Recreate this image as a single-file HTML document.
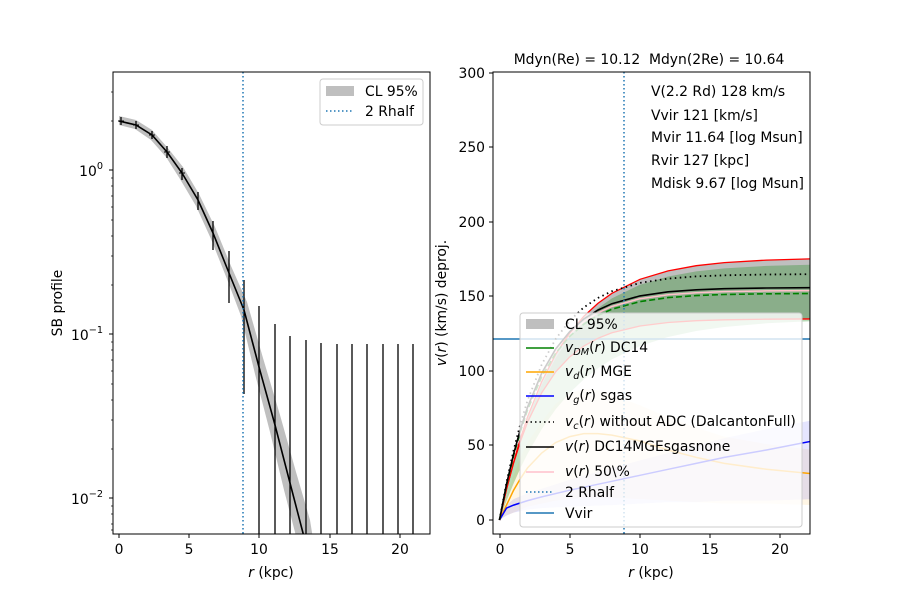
<!DOCTYPE html>
<html><head><meta charset="utf-8"><style>
html,body{margin:0;padding:0;background:#fff;}
svg{display:block;font-family:"DejaVu Sans","Liberation Sans",sans-serif;}
</style></head><body>
<svg width="900" height="600" viewBox="0 0 900 600" xmlns="http://www.w3.org/2000/svg">
<rect width="900" height="600" fill="#fff"/>
<defs>
<clipPath id="cl"><rect x="113" y="72" width="317" height="462"/></clipPath>
<clipPath id="cr"><rect x="493" y="72" width="317" height="462"/></clipPath>
</defs>

<!-- LEFT PANEL -->
<g clip-path="url(#cl)">
<polygon fill="#bfbfbf" points="119,116 136,120 152,130 167,147 183,167 199,194 215,227 231,266 247,302 263,358 280,415 296,472 310,520 314,545 300,545 296,536 284,490 270,432 255,374 241,316 227,279 211,239 196,206 180,179 166,157 151,140 135,129 119,125"/>
<polyline fill="none" stroke="#000" stroke-width="1.6" points="119,121 136,125 152,135 167,152 182,173 198,200 213,233 229,273 244,310 259,367 275,425 290,483 303,533 306,545"/>
<g stroke="#000" stroke-width="1.3">
<line x1="121" y1="117" x2="121" y2="125"/>
<line x1="136" y1="121" x2="136" y2="129"/>
<line x1="152" y1="131" x2="152" y2="139"/>
<line x1="167" y1="146" x2="167" y2="158"/>
<line x1="182" y1="168" x2="182" y2="180"/>
<line x1="198" y1="192" x2="198" y2="210"/>
<line x1="213" y1="221" x2="213" y2="250"/>
<line x1="229" y1="251" x2="229" y2="303"/>
<line x1="244" y1="280" x2="244" y2="394"/>
<line x1="259" y1="306" x2="259" y2="540"/>
<line x1="275" y1="324" x2="275" y2="540"/>
<line x1="290" y1="336" x2="290" y2="540"/>
<line x1="306" y1="340" x2="306" y2="540"/>
<line x1="321" y1="343" x2="321" y2="540"/>
<line x1="337" y1="344" x2="337" y2="540"/>
<line x1="352" y1="344" x2="352" y2="540"/>
<line x1="367" y1="344" x2="367" y2="540"/>
<line x1="383" y1="344" x2="383" y2="540"/>
<line x1="398" y1="344" x2="398" y2="540"/>
<line x1="413" y1="344" x2="413" y2="540"/>
</g>
<g stroke="#000" stroke-width="1">
<line x1="118" y1="121" x2="124" y2="121"/><line x1="133" y1="125" x2="139" y2="125"/><line x1="149" y1="135" x2="155" y2="135"/><line x1="164" y1="152" x2="170" y2="152"/><line x1="179" y1="173" x2="185" y2="173"/>
</g>
<line x1="243" y1="72" x2="243" y2="534" stroke="#1f77b4" stroke-width="1.5" stroke-dasharray="1.5,2.5"/>
</g>
<rect x="113" y="72" width="317" height="462" fill="none" stroke="#000" stroke-width="1"/>
<g stroke="#000" stroke-width="1">
<line x1="119" y1="534" x2="119" y2="538"/><line x1="189" y1="534" x2="189" y2="538"/><line x1="259" y1="534" x2="259" y2="538"/><line x1="330" y1="534" x2="330" y2="538"/><line x1="400" y1="534" x2="400" y2="538"/>
<line x1="109" y1="170" x2="113" y2="170"/><line x1="109" y1="334" x2="113" y2="334"/><line x1="109" y1="498" x2="113" y2="498"/>
</g>
<g stroke="#000" stroke-width="0.7">
<line x1="111" y1="121" x2="113" y2="121"/><line x1="111" y1="92" x2="113" y2="92"/>
<line x1="111" y1="285" x2="113" y2="285"/><line x1="111" y1="256" x2="113" y2="256"/><line x1="111" y1="236" x2="113" y2="236"/><line x1="111" y1="220" x2="113" y2="220"/><line x1="111" y1="207" x2="113" y2="207"/><line x1="111" y1="196" x2="113" y2="196"/><line x1="111" y1="186" x2="113" y2="186"/><line x1="111" y1="178" x2="113" y2="178"/>
<line x1="111" y1="449" x2="113" y2="449"/><line x1="111" y1="420" x2="113" y2="420"/><line x1="111" y1="400" x2="113" y2="400"/><line x1="111" y1="384" x2="113" y2="384"/><line x1="111" y1="371" x2="113" y2="371"/><line x1="111" y1="360" x2="113" y2="360"/><line x1="111" y1="350" x2="113" y2="350"/><line x1="111" y1="342" x2="113" y2="342"/>
<line x1="111" y1="530" x2="113" y2="530"/><line x1="111" y1="524" x2="113" y2="524"/><line x1="111" y1="514" x2="113" y2="514"/><line x1="111" y1="506" x2="113" y2="506"/>
</g>
<g font-size="13.9" fill="#000" text-anchor="middle">
<text x="119" y="554">0</text><text x="189" y="554">5</text><text x="259" y="554">10</text><text x="330" y="554">15</text><text x="400" y="554">20</text>
<text x="271" y="577"><tspan font-style="italic">r</tspan> (kpc)</text>
</g>
<g font-size="13.9" fill="#000" text-anchor="end">
<text x="103" y="176">10<tspan font-size="9.7" dy="-7">0</tspan></text>
<text x="103" y="340">10<tspan font-size="9.7" dy="-7">−1</tspan></text>
<text x="103" y="504">10<tspan font-size="9.7" dy="-7">−2</tspan></text>
</g>
<text transform="translate(62,303) rotate(-90)" font-size="13.9" text-anchor="middle">SB profile</text>
<rect x="320" y="79" width="103" height="46" rx="3" fill="#fff" fill-opacity="0.8" stroke="#ccc"/>
<rect x="326" y="86" width="28" height="10" fill="#bfbfbf"/>
<text x="365" y="96" font-size="13.9">CL 95%</text>
<line x1="326" y1="111" x2="354" y2="111" stroke="#1f77b4" stroke-width="1.5" stroke-dasharray="1.5,2.5"/>
<text x="365" y="116" font-size="13.9">2 Rhalf</text>

<!-- RIGHT PANEL -->
<g clip-path="url(#cr)">
<!-- gray CL band -->
<polygon fill="#bfbfbf" points="499.5,520 506.5,489.2 513.6,462.0 520.6,438.0 527.6,416.8 541.7,381.7 555.7,354.3 569.8,332.9 583.8,316.3 597.9,303.4 611.9,293.3 640,279.3 668.1,270.9 696.2,265.7 724.3,262.6 766.5,260.1 812.8,258.8 812.8,318.9 766.5,319.2 724.3,319.8 696.2,320.7 668.1,322.5 640,326.0 611.9,332.8 597.9,338.3 583.8,346.0 569.8,356.8 555.7,371.8 541.7,392.8 527.6,422.1 520.6,440.8 513.6,463.0 506.5,489.1"/>
<!-- green band -->
<polygon fill="#008000" fill-opacity="0.28" points="499.5,520 506.5,489.9 513.6,463.3 520.6,439.9 527.6,419.1 541.7,384.8 555.7,358.0 569.8,337.1 583.8,320.9 597.9,308.2 611.9,298.4 640,284.7 668.1,276.5 696.2,271.4 724.3,268.4 766.5,265.9 812.8,264.7 812.8,321.1 766.5,323.3 724.3,327.0 696.2,331.0 668.1,337.0 640,346.0 611.9,359.4 597.9,368.4 583.8,379.4 569.8,392.8 555.7,409.2 541.7,429.2 527.6,453.7 520.6,467.8 513.6,483.5 506.5,500.8"/>
<!-- orange band -->
<polygon fill="#ffa500" fill-opacity="0.1" points="499.5,520 506.5,497.7 513.6,475.3 520.6,457.4 527.6,442.5 541.7,421.7 555.7,403.8 569.8,393.4 583.8,388.9 597.9,390.4 611.9,394.8 640,405.3 668.1,417.2 696.2,427.6 724.3,436.6 766.5,444.0 812.8,450.0 812.8,505.1 766.5,503.6 724.3,503.6 696.2,502.1 668.1,500.6 640,499.1 611.9,497.7 597.9,497.7 583.8,497.7 569.8,499.1 555.7,500.6 541.7,503.6 527.6,506.6 520.6,509.6 513.6,512.6 506.5,515.5"/>
<!-- blue band -->
<polygon fill="#0000ff" fill-opacity="0.1" points="499.5,520 506.5,505.1 513.6,499.1 527.6,493.2 541.7,488.7 569.8,479.8 611.9,467.9 640,460.4 668.1,453.0 696.2,445.5 724.3,438.1 766.5,429.1 812.8,420.2 812.8,499.1 766.5,500.6 724.3,500.6 696.2,502.1 668.1,502.1 640,503.6 611.9,505.1 569.8,506.6 541.7,508.1 527.6,509.6 513.6,512.6 506.5,515.5"/>
<line x1="493" y1="339" x2="810" y2="339" stroke="#1f77b4" stroke-width="1.5"/>
<polyline fill="none" stroke="#ffa500" stroke-width="1.5" points="499.5,520 506.5,505.1 513.6,490.2 520.6,478.3 527.6,467.9 541.7,453.0 555.7,442.5 569.8,436.6 583.8,433.6 597.9,433.6 611.9,435.1 640,441.0 668.1,450.0 696.2,457.4 724.3,463.4 766.5,469.3 812.8,473.8"/>
<polyline fill="none" stroke="#0000ff" stroke-width="1.5" points="499.5,520 506.5,508.1 513.6,505.1 527.6,500.6 541.7,496.9 569.8,490.2 611.9,481.3 640,475.3 668.1,469.3 696.2,463.4 724.3,457.4 766.5,450.0 812.8,441.0"/>
<polyline fill="none" stroke="#ffc0cb" stroke-width="1.5" points="499.5,520 506.5,484.8 513.6,454.9 520.6,429.7 527.6,408.3 541.7,374.9 555.7,351.0 569.8,333.9 583.8,321.6 597.9,312.8 611.9,306.5 640,298.7 668.1,294.7 696.2,292.7 724.3,291.6 766.5,290.9 812.8,290.6"/>
<polyline fill="none" stroke="#ff0000" stroke-width="1.3" points="499.5,520 506.5,489.2 513.6,462.0 520.6,438.0 527.6,416.8 541.7,381.7 555.7,354.3 569.8,332.9 583.8,316.3 597.9,303.4 611.9,293.3 640,279.3 668.1,270.9 696.2,265.7 724.3,262.6 766.5,260.1 812.8,258.8"/>
<polyline fill="none" stroke="#ff0000" stroke-width="1.3" points="499.5,520 506.5,489.1 513.6,463.0 520.6,440.8 527.6,422.1 541.7,392.8 555.7,371.8 569.8,356.8 583.8,346.0 597.9,338.3 611.9,332.8 640,326.0 668.1,322.5 696.2,320.7 724.3,319.8 766.5,319.2 812.8,318.9"/>
<polyline fill="none" stroke="#008000" stroke-width="1.6" stroke-dasharray="6,3" points="499.5,520 506.5,485.2 513.6,455.8 520.6,430.9 527.6,409.8 541.7,376.8 555.7,353.2 569.8,336.3 583.8,324.2 597.9,315.5 611.9,309.2 640,301.6 668.1,297.6 696.2,295.6 724.3,294.5 766.5,293.8 812.8,293.5"/>
<polyline fill="none" stroke="#000" stroke-width="1.8" stroke-dasharray="1.5,3.5" points="499.5,520 506.5,482.3 513.6,450.3 520.6,423.2 527.6,400.3 541.7,364.6 555.7,338.9 569.8,320.5 583.8,307.4 597.9,298.0 611.9,291.2 640,282.9 668.1,278.6 696.2,276.4 724.3,275.3 766.5,274.5 812.8,274.2"/>
<polyline fill="none" stroke="#000" stroke-width="1.6" points="499.5,520 506.5,484.3 513.6,454.1 520.6,428.5 527.6,406.9 541.7,373.1 555.7,348.9 569.8,331.5 583.8,319.0 597.9,310.1 611.9,303.7 640,295.9 668.1,291.8 696.2,289.8 724.3,288.7 766.5,288.0 812.8,287.7"/>
<line x1="624" y1="72" x2="624" y2="534" stroke="#1f77b4" stroke-width="1.5" stroke-dasharray="1.5,2.5"/>
</g>
<rect x="520" y="313" width="282" height="214" rx="3" fill="#fff" fill-opacity="0.8" stroke="#ccc"/>
<g font-size="13.9" fill="#000">
<rect x="526" y="319" width="28" height="10" fill="#bfbfbf"/>
<text x="565" y="329">CL 95%</text>
<line x1="526" y1="348" x2="554" y2="348" stroke="#008000" stroke-width="1.5"/>
<text x="565" y="352"><tspan font-style="italic">v</tspan><tspan font-size="9.7" dy="3" font-style="italic">DM</tspan><tspan dy="-3">(</tspan><tspan font-style="italic">r</tspan>) DC14</text>
<line x1="526" y1="372" x2="554" y2="372" stroke="#ffa500" stroke-width="1.5"/>
<text x="565" y="376"><tspan font-style="italic">v</tspan><tspan font-size="9.7" dy="3" font-style="italic">d</tspan><tspan dy="-3">(</tspan><tspan font-style="italic">r</tspan>) MGE</text>
<line x1="526" y1="396" x2="554" y2="396" stroke="#0000ff" stroke-width="1.5"/>
<text x="565" y="400"><tspan font-style="italic">v</tspan><tspan font-size="9.7" dy="3" font-style="italic">g</tspan><tspan dy="-3">(</tspan><tspan font-style="italic">r</tspan>) sgas</text>
<line x1="526" y1="422" x2="554" y2="422" stroke="#000" stroke-width="1.5" stroke-dasharray="1.5,3"/>
<text x="565" y="426"><tspan font-style="italic">v</tspan><tspan font-size="9.7" dy="3" font-style="italic">c</tspan><tspan dy="-3">(</tspan><tspan font-style="italic">r</tspan>) without ADC (DalcantonFull)</text>
<line x1="526" y1="447" x2="554" y2="447" stroke="#000" stroke-width="1.5"/>
<text x="565" y="451"><tspan font-style="italic">v</tspan>(<tspan font-style="italic">r</tspan>) DC14MGEsgasnone</text>
<line x1="526" y1="472" x2="554" y2="472" stroke="#ffc0cb" stroke-width="1.5"/>
<text x="565" y="476"><tspan font-style="italic">v</tspan>(<tspan font-style="italic">r</tspan>) 50\%</text>
<line x1="526" y1="492" x2="554" y2="492" stroke="#1f77b4" stroke-width="1.5" stroke-dasharray="1.5,2.5"/>
<text x="565" y="497">2 Rhalf</text>
<line x1="526" y1="513" x2="554" y2="513" stroke="#1f77b4" stroke-width="1.5"/>
<text x="565" y="518">Vvir</text>
</g>
<rect x="493" y="72" width="317" height="462" fill="none" stroke="#000" stroke-width="1"/>
<g stroke="#000" stroke-width="1">
<line x1="500" y1="534" x2="500" y2="538"/><line x1="570" y1="534" x2="570" y2="538"/><line x1="640" y1="534" x2="640" y2="538"/><line x1="710" y1="534" x2="710" y2="538"/><line x1="780" y1="534" x2="780" y2="538"/>
<line x1="489" y1="520" x2="493" y2="520"/><line x1="489" y1="445" x2="493" y2="445"/><line x1="489" y1="371" x2="493" y2="371"/><line x1="489" y1="296" x2="493" y2="296"/><line x1="489" y1="222" x2="493" y2="222"/><line x1="489" y1="147" x2="493" y2="147"/><line x1="489" y1="73" x2="493" y2="73"/>
</g>
<g font-size="13.9" fill="#000" text-anchor="middle">
<text x="500" y="554">0</text><text x="570" y="554">5</text><text x="640" y="554">10</text><text x="710" y="554">15</text><text x="780" y="554">20</text>
<text x="651" y="577"><tspan font-style="italic">r</tspan> (kpc)</text>
<text x="649" y="64" xml:space="preserve" style="white-space:pre">Mdyn(Re) = 10.12  Mdyn(2Re) = 10.64</text>
</g>
<g font-size="13.9" fill="#000" text-anchor="end">
<text x="485" y="525">0</text><text x="485" y="450">50</text><text x="485" y="376">100</text><text x="485" y="301">150</text><text x="485" y="227">200</text><text x="485" y="152">250</text><text x="485" y="78">300</text>
</g>
<text transform="translate(446,303) rotate(-90)" font-size="13.9" text-anchor="middle"><tspan font-style="italic">v</tspan>(<tspan font-style="italic">r</tspan>) (km/s) deproj.</text>
<g font-size="13.9" fill="#000">
<text x="651" y="96">V(2.2 Rd) 128 km/s</text>
<text x="651" y="120">Vvir 121 [km/s]</text>
<text x="651" y="142">Mvir 11.64 [log Msun]</text>
<text x="651" y="165">Rvir 127 [kpc]</text>
<text x="651" y="188">Mdisk 9.67 [log Msun]</text>
</g>
</svg>
</body></html>
